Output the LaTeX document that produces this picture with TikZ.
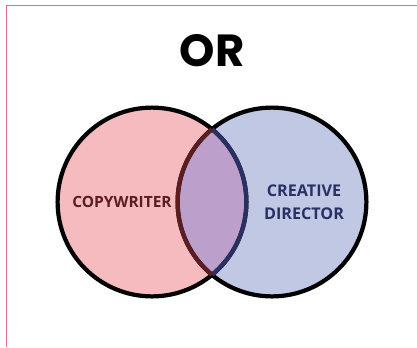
\documentclass[tikz,border=0pt]{standalone}
\usepackage{fontspec}
\setmainfont{Open Sans}
\newfontfamily\orfont{Poppins}
\definecolor{framepink}{RGB}{222,110,140}
\definecolor{pinkfill}{RGB}{245,187,190}
\definecolor{bluefill}{RGB}{192,200,228}
\definecolor{mixfill}{RGB}{188,160,203}
\definecolor{maroon}{RGB}{92,28,34}
\definecolor{navy}{RGB}{42,48,100}
\begin{document}
\begin{tikzpicture}[every node/.style={font=\bfseries}]
                \useasboundingbox (0,0) rectangle (10.425,8.675);
                % Frame lines
                \draw[framepink, line width=0.6pt] (0.15,0) -- (0.15,8.55) -- (10.425,8.55);

                % Title
                \node[font=\orfont\bfseries\fontsize{32}{33}\selectfont] (title) at (5.3,7.4) {OR};

                % Fill the two circles and their overlap
                \fill[pinkfill] (3.8,3.625) circle (2.36);
                \fill[bluefill] (6.8,3.625) circle (2.36);
                \begin{scope}
                    \clip (3.8,3.625) circle (2.36);
                    \fill[mixfill] (6.8,3.625) circle (2.36);
                \end{scope}

                % Outlines, darker inside the other circle
                \draw[line width=3pt] (3.8,3.625) circle (2.36);
                \draw[line width=3pt] (6.8,3.625) circle (2.36);
                \begin{scope}
                    \clip (6.8,3.625) circle (2.36);
                    \draw[navy, line width=3pt] (3.8,3.625) circle (2.36);
                \end{scope}
                \begin{scope}
                    \clip (3.8,3.625) circle (2.36);
                    \draw[maroon, line width=3pt] (6.8,3.625) circle (2.36);
                \end{scope}

                % Labels
                \node[maroon, font=\bfseries\fontsize{11}{13}\selectfont] (copy) at (3.05,3.62) {COPYWRITER};
                \node[navy, align=center, font=\bfseries\fontsize{11.5}{16}\selectfont] (creative) at (7.6,3.62) {CREATIVE\\DIRECTOR};
            \end{tikzpicture}
\end{document}
